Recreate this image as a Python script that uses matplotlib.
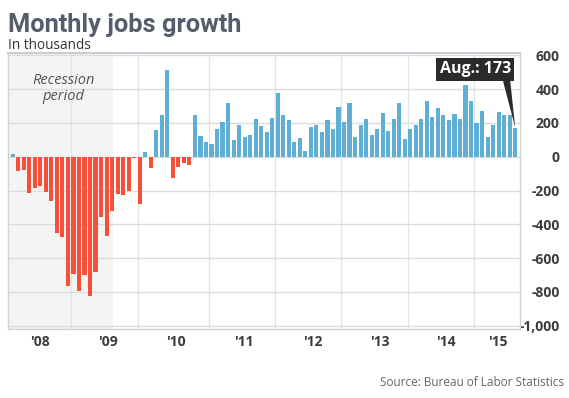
import numpy as np
import matplotlib.pyplot as plt

# monthly change in payrolls, thousands, Jan 2008 - Aug 2015
jobs = [16, -84, -78, -212, -182, -171, -210, -259, -451, -474, -765, -694,
        -796, -702, -823, -684, -355, -467, -323, -218, -227, -200, -7, -282,
        31, -67, 161, 245, 515, -127, -63, -39, -49, 247, 120, 88,
        75, 167, 204, 321, 102, 185, 116, 126, 223, 181, 146, 227,
        380, 246, 215, 85, 112, 34, 177, 187, 144, 215, 164, 294,
        205, 316, 114, 187, 221, 126, 164, 259, 150, 225, 318, 108,
        166, 187, 225, 332, 237, 286, 249, 215, 251, 223, 424, 330,
        201, 268, 118, 187, 262, 245, 245, 173]
year_labels = ["'08", "'09", "'10", "'11", "'12", "'13", "'14", "'15"]
year_label_pos = [4.9, 17.3, 29.6, 41.9, 54.4, 66.5, 78.5, 87.9]
year_grid_pos = [10.6, 22.6, 35.5, 47.5, 59.5, 71.5, 83.5]
y_ticks = [600, 400, 200, 0, -200, -400, -600, -800, -1000]
recession_end = 18.2

red = '#f4503a'
blue = '#5eafd3'

fig = plt.figure(figsize=(5.69, 3.98), dpi=100)
ax = fig.add_axes([0.0146, 0.173, 0.8986, 0.693])

x = np.arange(len(jobs))
vals = np.array(jobs)
colors = [blue if v >= 0 else red for v in vals]
ax.bar(x, vals, width=0.75, color=colors, zorder=3)

ax.set_xlim(-0.8, 91.8)
ax.set_ylim(-1020, 612)

# recession shading
ax.axvspan(-0.8, recession_end, color='#f4f4f4', zorder=0, lw=0)
ax.text(9.2, 405, 'Recession\nperiod', ha='center', va='center', fontsize=10.5,
        style='italic', color='#555555', family='Open Sans', linespacing=1.05, zorder=4)

for g in year_grid_pos:
    ax.axvline(g, color='#d9e6ec', lw=0.9, zorder=1)
for t in y_ticks:
    ax.axhline(t, color='#dcdcdc', lw=1.0, zorder=1)

ax.set_yticks(y_ticks)
ax.set_yticklabels(['{:,}'.format(t) for t in y_ticks])
ax.yaxis.tick_right()
ax.tick_params(axis='y', length=0, pad=29, labelsize=10, labelcolor='#3c3c3c')
for lab in ax.get_yticklabels():
    lab.set_horizontalalignment('right')
    lab.set_fontweight('bold')
    lab.set_family('Open Sans')

ax.set_xticks(year_label_pos)
ax.set_xticklabels(year_labels)
ax.tick_params(axis='x', length=0, pad=4, labelsize=10, labelcolor='#3c3c3c')
for lab in ax.get_xticklabels():
    lab.set_fontweight('bold')
    lab.set_family('Open Sans')

for s in ax.spines.values():
    s.set_color('#d0d4d8')
    s.set_linewidth(1.0)
ax.spines['top'].set_linewidth(1.5)
ax.spines['top'].set_color('#c8ccd4')

# callout for latest month
ax.annotate('Aug.: 173', xy=(len(jobs) - 1, jobs[-1]), xytext=(83.75, 519),
            ha='center', va='center', color='white', fontsize=11.5, fontweight='bold',
            family='Open Sans', zorder=6,
            bbox=dict(boxstyle='square,pad=0.22', fc='#2a2a2a', ec='none'),
            arrowprops=dict(arrowstyle='wedge,tail_width=0.45', fc='#2a2a2a', ec='none',
                            relpos=(0.93, 0.05), shrinkA=0, shrinkB=0))

fig.text(8 / 569, 1 - 32 / 398, 'Monthly jobs growth', fontsize=18.3, fontweight='bold',
         color='#555c6b', family='Roboto', va='baseline')
fig.text(8 / 569, 1 - 48.7 / 398, 'In thousands', fontsize=9.8, color='#333333',
         family='Open Sans', va='baseline')
fig.text(564 / 569, 1 - 386 / 398, 'Source: Bureau of Labor Statistics', fontsize=8.5,
         color='#666666', family='Open Sans', ha='right', va='baseline')

fig.savefig('out.png', dpi=100)
